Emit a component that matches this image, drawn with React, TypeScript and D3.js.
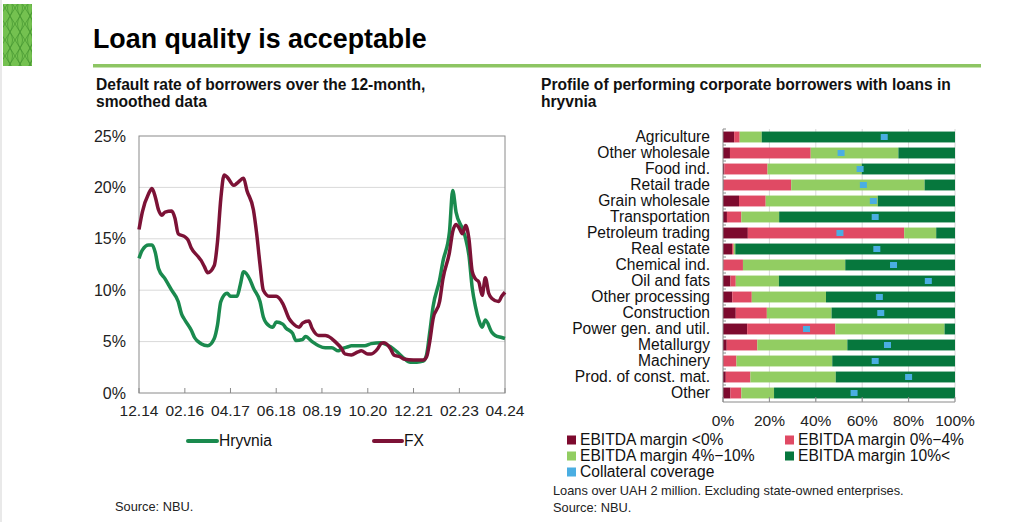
import React from "react";
import * as d3 from "d3";

// ---------- Left chart data (default rate, %) ----------
const hryvniaSeries: [string, number][] = [
  ["2014-12", 13.1], ["2015-01", 13.9], ["2015-03", 14.4], ["2015-04", 14.4], ["2015-05", 13.7],
  ["2015-06", 12.1], ["2015-08", 11.1], ["2015-10", 10.0], ["2015-12", 8.9], ["2016-01", 7.7],
  ["2016-02", 7.1], ["2016-04", 6.1], ["2016-05", 5.4], ["2016-07", 4.8], ["2016-09", 4.6],
  ["2016-11", 5.3], ["2016-12", 6.6], ["2017-01", 8.9], ["2017-03", 9.7], ["2017-04", 9.4],
  ["2017-06", 9.4], ["2017-07", 10.5], ["2017-08", 11.8], ["2017-10", 11.0], ["2017-11", 10.2],
  ["2018-01", 8.9], ["2018-02", 7.4], ["2018-03", 6.8], ["2018-05", 6.4], ["2018-06", 6.9],
  ["2018-08", 6.7], ["2018-09", 6.3], ["2018-11", 5.8], ["2018-12", 5.1], ["2019-02", 5.2],
  ["2019-03", 5.5], ["2019-05", 5.0], ["2019-07", 4.6], ["2019-09", 4.4], ["2019-11", 4.4],
  ["2020-01", 4.1], ["2020-02", 4.3], ["2020-04", 4.5], ["2020-05", 4.6], ["2020-07", 4.6],
  ["2020-09", 4.6], ["2020-11", 4.8], ["2021-02", 4.9], ["2021-03", 4.8], ["2021-05", 4.5],
  ["2021-07", 4.0], ["2021-09", 3.4], ["2021-11", 3.0], ["2022-01", 3.0], ["2022-03", 3.1],
  ["2022-04", 3.7], ["2022-05", 5.9], ["2022-06", 8.4], ["2022-08", 11.0], ["2022-09", 12.8],
  ["2022-11", 15.7], ["2022-12", 19.7], ["2023-01", 17.6], ["2023-03", 16.0], ["2023-04", 15.0],
  ["2023-05", 13.4], ["2023-06", 10.2], ["2023-07", 8.4], ["2023-08", 7.1], ["2023-09", 6.4],
  ["2023-10", 7.1], ["2023-12", 5.9], ["2024-01", 5.6], ["2024-03", 5.4], ["2024-04", 5.3],
];

const fxSeries: [string, number][] = [
  ["2014-12", 15.9], ["2015-01", 17.6], ["2015-03", 19.4], ["2015-04", 19.9], ["2015-05", 19.1],
  ["2015-06", 17.8], ["2015-07", 17.3], ["2015-08", 17.6], ["2015-10", 17.7], ["2015-11", 17.0],
  ["2015-12", 15.5], ["2016-02", 15.2], ["2016-03", 14.9], ["2016-04", 14.1], ["2016-06", 13.3],
  ["2016-07", 12.9], ["2016-08", 12.3], ["2016-09", 11.7], ["2016-11", 12.4], ["2016-12", 14.7],
  ["2017-01", 18.9], ["2017-02", 21.2], ["2017-03", 21.0], ["2017-05", 20.2], ["2017-06", 20.4],
  ["2017-08", 20.9], ["2017-09", 19.7], ["2017-11", 17.8], ["2017-12", 15.5], ["2018-01", 12.5],
  ["2018-02", 10.0], ["2018-04", 9.4], ["2018-06", 9.4], ["2018-08", 8.7], ["2018-10", 7.2],
  ["2018-11", 6.8], ["2019-01", 6.4], ["2019-02", 6.8], ["2019-04", 7.0], ["2019-05", 6.3],
  ["2019-07", 5.6], ["2019-09", 5.6], ["2019-10", 5.5], ["2019-12", 5.0], ["2020-02", 4.3],
  ["2020-03", 3.8], ["2020-05", 3.7], ["2020-07", 4.0], ["2020-08", 4.1], ["2020-10", 3.8],
  ["2020-11", 3.8], ["2021-01", 4.3], ["2021-02", 4.8], ["2021-03", 4.9], ["2021-05", 4.3],
  ["2021-06", 3.7], ["2021-08", 3.5], ["2021-09", 3.3], ["2021-12", 3.2], ["2022-03", 3.2],
  ["2022-04", 3.5], ["2022-05", 5.0], ["2022-06", 7.2], ["2022-08", 8.9], ["2022-09", 11.1],
  ["2022-11", 13.7], ["2022-12", 15.7], ["2023-01", 16.4], ["2023-02", 16.0], ["2023-03", 15.5],
  ["2023-04", 16.3], ["2023-05", 15.0], ["2023-06", 11.8], ["2023-07", 11.1], ["2023-08", 10.8],
  ["2023-09", 9.5], ["2023-10", 11.2], ["2023-11", 9.7], ["2023-12", 9.2], ["2024-02", 8.9],
  ["2024-03", 9.4], ["2024-04", 9.8],
];

const lineTickDates = ["2014-12", "2016-02", "2017-04", "2018-06", "2019-08", "2020-10", "2021-12", "2023-02", "2024-04"];
const lineYTicks = [0, 5, 10, 15, 20, 25];

// ---------- Right chart data (% of borrowers) ----------
const sectors = [
  "Agriculture", "Other wholesale", "Food ind.", "Retail trade", "Grain wholesale", "Transportation",
  "Petroleum trading", "Real estate", "Chemical ind.", "Oil and fats", "Other processing",
  "Construction", "Power gen. and util.", "Metallurgy", "Machinery", "Prod. of const. mat.", "Other",
];
const marginNeg = [4.8, 3.0, 0.6, 0.3, 6.9, 1.7, 10.7, 3.9, 0.0, 3.2, 4.0, 5.5, 10.4, 1.6, 0.0, 1.2, 3.2];
const margin0to4 = [2.4, 34.8, 18.6, 29.1, 11.5, 6.2, 67.4, 0.7, 8.6, 2.3, 8.4, 13.4, 38.0, 13.2, 5.8, 10.6, 4.7];
const margin4to10 = [9.5, 37.8, 40.6, 57.5, 48.3, 16.3, 13.8, 0.7, 44.1, 18.6, 32.0, 27.9, 47.1, 38.8, 41.3, 36.8, 14.1];
const margin10plus = [83.3, 24.4, 40.2, 13.1, 33.3, 75.8, 8.1, 94.7, 47.3, 75.9, 55.6, 53.2, 4.5, 46.4, 52.9, 51.4, 78.0];
const collateral = [69.5, 50.9, 59.1, 60.5, 64.8, 65.6, 50.4, 66.3, 73.5, 88.5, 67.4, 68.0, 36.0, 70.9, 65.6, 80.0, 56.5];
const barXTicks = [0, 20, 40, 60, 80, 100];

const seriesNames = ["EBITDA margin <0%", "EBITDA margin 0%\u22124%", "EBITDA margin 4%\u221210%", "EBITDA margin 10%<"];
const seriesColors = ["#7d0a2e", "#e04a64", "#92cd62", "#06773d"];
const collateralColor = "#4aaee2";
const hryvniaColor = "#1a8a4e";
const fxColor = "#7c1236";

const FONT = "'Liberation Sans', Arial, sans-serif";

export default function App() {
  const parse = d3.timeParse("%Y-%m");
  const fmt = d3.timeFormat("%m.%y");

  // Left chart scales
  const lx = d3.scaleTime().domain([parse("2014-12")!, parse("2024-04")!]).range([139, 505]);
  const ly = d3.scaleLinear().domain([0, 25]).range([393, 136]);
  const line = d3
    .line<[string, number]>()
    .x((d) => lx(parse(d[0])!))
    .y((d) => ly(d[1]))
    .curve(d3.curveMonotoneX);

  // Right chart scales
  const bx = d3.scaleLinear().domain([0, 100]).range([723, 955]);
  const by = d3.scaleBand<string>().domain(sectors).range([129, 401]).paddingInner(0.32).paddingOuter(0.16);
  const stackData = sectors.map((s, i) => ({
    sector: s,
    s0: marginNeg[i],
    s1: margin0to4[i],
    s2: margin4to10[i],
    s3: margin10plus[i],
  }));
  const stack = d3.stack<any>().keys(["s0", "s1", "s2", "s3"])(stackData);

  const legendItems = [
    { name: seriesNames[0], color: seriesColors[0], x: 567, y: 440 },
    { name: seriesNames[1], color: seriesColors[1], x: 785, y: 440 },
    { name: seriesNames[2], color: seriesColors[2], x: 567, y: 456 },
    { name: seriesNames[3], color: seriesColors[3], x: 785, y: 456 },
    { name: "Collateral coverage", color: collateralColor, x: 567, y: 472 },
  ];

  return (
    <svg
      width={1024}
      height={522}
      style={{ position: "absolute", left: 0, top: 0, background: "#fff", fontFamily: FONT }}
    >
      <defs>
        <pattern id="lattice" width="10" height="16" patternUnits="userSpaceOnUse">
          <path d="M0,0 Q5,8 0,16 M10,0 Q5,8 10,16 M0,0 Q5,8 10,16 M10,0 Q5,8 0,16" fill="none" stroke="#3d8f2a" strokeWidth={0.6} />
        </pattern>
      </defs>
      <rect x={0} y={0} width={1024} height={522} fill="#fff" />
      <line x1={1} y1={0} x2={1} y2={522} stroke="#e2e2e2" strokeWidth={1.5} />
      {/* decorative box */}
      <rect x={3} y={4} width={29} height={62} fill="#74c150" />
      <rect x={3} y={4} width={29} height={62} fill="url(#lattice)" />

      {/* title */}
      <text x={93} y={48} fontSize={26.8} fontWeight="bold" fill="#000">
        Loan quality is acceptable
      </text>
      <rect x={93} y={64} width={888} height={3.5} fill="#8dc563" />

      {/* left subtitle */}
      <text x={96} y={90} fontSize={15.6} fontWeight="bold" fill="#111">
        Default rate of borrowers over the 12-month,
      </text>
      <text x={96} y={107} fontSize={15.6} fontWeight="bold" fill="#111">
        smoothed data
      </text>

      {/* right subtitle */}
      <text x={541} y={90} fontSize={15.6} fontWeight="bold" fill="#111">
        Profile of performing corporate borrowers with loans in
      </text>
      <text x={541} y={107} fontSize={15.6} fontWeight="bold" fill="#111">
        hryvnia
      </text>

      {/* ---------- Left chart ---------- */}
      {lineYTicks.map((t) => (
        <g key={"gy" + t}>
          {t > 0 && t < 25 && (
            <line x1={lx.range()[0]} x2={lx.range()[1]} y1={ly(t)} y2={ly(t)} stroke="#d9d9d9" strokeWidth={1} />
          )}
          <text x={126} y={ly(t)} dy="0.35em" textAnchor="end" fontSize={16} fill="#222">
            {t}%
          </text>
        </g>
      ))}
      <rect
        x={lx.range()[0]}
        y={ly(25)}
        width={lx.range()[1] - lx.range()[0]}
        height={ly(0) - ly(25)}
        fill="none"
        stroke="#8a8a8a"
        strokeWidth={1}
      />
      {lineTickDates.map((d) => {
        const x = lx(parse(d)!);
        return (
          <g key={"tx" + d}>
            <line x1={x} x2={x} y1={ly(0)} y2={ly(0) - 5} stroke="#8a8a8a" />
            <text x={x} y={416} textAnchor="middle" fontSize={15.5} fill="#222">
              {fmt(parse(d)!)}
            </text>
          </g>
        );
      })}
      <path d={line(hryvniaSeries)!} fill="none" stroke={hryvniaColor} strokeWidth={3.5} strokeLinejoin="round" />
      <path d={line(fxSeries)!} fill="none" stroke={fxColor} strokeWidth={3.5} strokeLinejoin="round" />

      {/* left legend */}
      <line x1={188} x2={217} y1={441} y2={441} stroke={hryvniaColor} strokeWidth={4} strokeLinecap="round" />
      <text x={219} y={441} dy="0.35em" fontSize={15.6} fill="#111">Hryvnia</text>
      <line x1={374} x2={402} y1={441} y2={441} stroke={fxColor} strokeWidth={4} strokeLinecap="round" />
      <text x={404} y={441} dy="0.35em" fontSize={15.6} fill="#111">FX</text>

      <text x={115} y={507} dy="0.35em" fontSize={12.8} fill="#222">Source: NBU.</text>

      {/* ---------- Right chart ---------- */}
      {barXTicks.map((t) => (
        <g key={"bx" + t}>
          {t > 0 && (
            <line x1={bx(t)} x2={bx(t)} y1={129} y2={401} stroke="#d9d9d9" strokeWidth={1} />
          )}
          <text x={bx(t)} y={421} dy="0.35em" textAnchor="middle" fontSize={15.5} fill="#222">
            {t}%
          </text>
        </g>
      ))}
      {stack.map((layer, li) =>
        layer.map((seg: any, i: number) => (
          <rect
            key={"b" + li + "-" + i}
            x={bx(seg[0])}
            y={by(sectors[i])!}
            width={Math.max(0, bx(seg[1]) - bx(seg[0]))}
            height={by.bandwidth()}
            fill={seriesColors[li]}
          />
        ))
      )}
      {collateral.map((v, i) => (
        <rect
          key={"c" + i}
          x={bx(v) - 3.5}
          y={by(sectors[i])! + by.bandwidth() / 2 - 3}
          width={7}
          height={6}
          fill={collateralColor}
        />
      ))}
      <line x1={bx(0)} x2={bx(0)} y1={129} y2={402} stroke="#8a8a8a" />
      <line x1={bx(0)} x2={bx(100)} y1={402} y2={402} stroke="#8a8a8a" />
      {barXTicks.map((t) => (
        <line key={"bt" + t} x1={bx(t)} x2={bx(t)} y1={402} y2={397} stroke="#8a8a8a" />
      ))}
      {sectors.map((s, i) => (
        <g key={"lab" + s}>
          <line
            x1={bx(0)}
            x2={bx(0) + 3}
            y1={by(s)! - (by.step() - by.bandwidth()) / 2}
            y2={by(s)! - (by.step() - by.bandwidth()) / 2}
            stroke="#8a8a8a"
          />
          <text x={710} y={by(s)! + by.bandwidth() / 2} dy="0.35em" textAnchor="end" fontSize={15.6} fill="#111">
            {s}
          </text>
        </g>
      ))}

      {/* right legend */}
      {legendItems.map((it) => (
        <g key={it.name}>
          <rect x={it.x} y={it.y - 4.5} width={9} height={9} fill={it.color} />
          <text x={it.x + 13} y={it.y} dy="0.35em" fontSize={15.6} fill="#111">
            {it.name}
          </text>
        </g>
      ))}
      <text x={553} y={491} dy="0.35em" fontSize={12.8} fill="#222">
        Loans over UAH 2 million. Excluding state-owned enterprises.
      </text>
      <text x={553} y={508} dy="0.35em" fontSize={12.8} fill="#222">Source: NBU.</text>
    </svg>
  );
}
